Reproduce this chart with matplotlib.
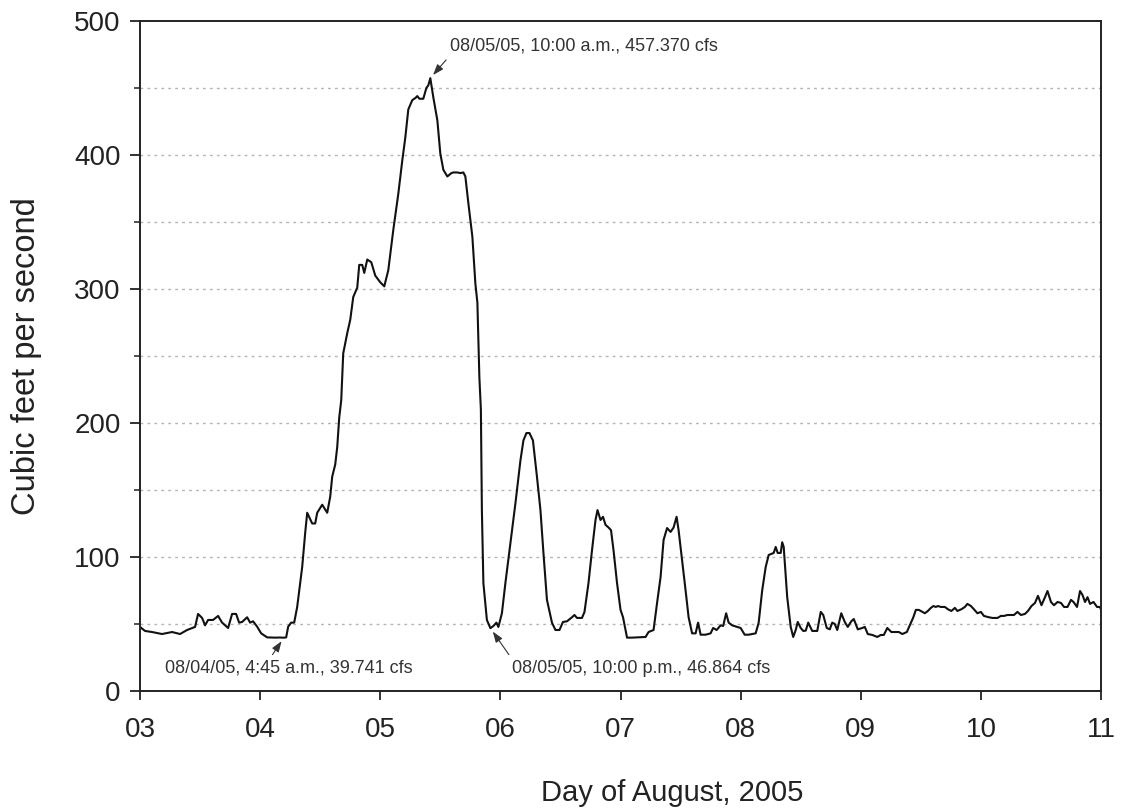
import matplotlib
matplotlib.use("Agg")
import matplotlib.pyplot as plt
from matplotlib.ticker import MultipleLocator, FixedLocator
from matplotlib import font_manager

# Streamflow record, hours since 00:00 on August 3, 2005
hours = [
    0.0, 1.0, 2.4, 4.4, 6.4, 8.0, 9.4, 11.0, 11.6, 12.4, 13.0, 13.6, 14.6, 15.6,
    16.4, 17.6, 18.4, 19.2, 19.8, 20.4, 21.4, 22.0, 22.6, 23.4, 24.2, 25.4, 27.0,
    28.0, 28.75, 29.2, 29.6, 30.2, 30.8, 31.4, 32.4, 33.0, 33.4, 34.4, 35.0, 35.4,
    36.4, 37.4, 38.0, 38.4, 39.0, 39.4, 39.8, 40.2, 40.6, 41.4, 42.0, 42.6, 43.4,
    43.8, 44.4, 44.8, 45.4, 46.2, 47.0, 48.0, 48.8, 49.6, 50.6, 51.4, 51.6, 52.4,
    53.0, 53.6, 54.4, 55.0, 55.4, 55.8, 56.6, 57.2, 57.6, 58.0, 58.6, 59.4, 60.0,
    60.6, 61.4, 62.2, 62.6, 63.4, 64.0, 64.6, 65.0, 65.6, 66.4, 67.0, 67.4, 67.8,
    68.1, 68.3, 68.6, 69.3, 70.0, 70.6, 71.2, 71.6, 72.3, 73.0, 74.0, 75.0, 76.0,
    76.6, 77.2, 77.8, 78.5, 79.3, 80.0, 80.6, 81.3, 82.3, 83.0, 83.8, 84.5, 85.3,
    86.3, 86.8, 87.3, 88.3, 88.8, 89.6, 90.3, 91.0, 91.4, 92.0, 92.5, 93.0, 93.6,
    94.1, 94.6, 95.3, 96.0, 96.5, 97.3, 98.3, 101.0, 101.6, 102.6, 103.3, 104.0,
    104.6, 105.3, 106.0, 106.6, 107.2, 107.6, 108.3, 109.0, 109.6, 110.3, 111.0,
    111.5, 112.0, 113.0, 114.0, 114.5, 115.2, 116.0, 116.5, 117.1, 117.6, 118.3,
    119.3, 120.0, 120.8, 121.6, 123.0, 123.6, 124.3, 125.0, 125.6, 126.6, 127.0,
    127.4, 128.0, 128.3, 128.6, 129.3, 130.0, 130.5, 131.0, 131.4, 132.0, 132.5,
    133.0, 133.5, 134.3, 135.3, 136.0, 136.5, 137.2, 137.8, 138.3, 138.8, 139.3,
    140.1, 140.8, 141.4, 142.1, 142.6, 143.4, 144.3, 144.8, 145.4, 146.3, 147.3,
    148.0, 148.6, 149.3, 150.1, 151.6, 152.3, 153.2, 153.8, 154.5, 155.0, 155.6,
    156.3, 156.8, 157.4, 158.0, 158.5, 159.0, 159.4, 160.0, 160.8, 161.4, 162.1,
    162.8, 163.3, 164.1, 164.8, 165.3, 166.0, 166.6, 167.3, 168.0, 168.6, 169.6,
    170.3, 171.3, 172.0, 172.6, 173.3, 174.6, 175.3, 176.0, 176.8, 177.4, 178.1,
    178.8, 179.4, 180.1, 180.8, 181.3, 182.0, 182.6, 183.3, 184.0, 184.6, 185.3,
    186.0, 186.5, 187.2, 187.8, 188.3, 188.8, 189.3, 189.8, 190.5, 191.2, 191.8,
    192.0,
]
cfs = [
    47.8, 44.8, 44.0, 42.5, 44.0, 42.5, 45.5, 47.8, 57.5, 54.5, 49.0, 53.0, 53.0, 56.0,
    51.0, 47.0, 57.5, 57.5, 51.0, 51.5, 55.0, 51.0, 52.0, 48.0, 43.0, 40.0, 39.8,
    39.9, 39.741, 40.0, 48.0, 51.0, 51.0, 62.7, 92.5, 118.0, 133.0, 125.0, 125.0, 133.0,
    139.0, 133.0, 145.0, 160.0, 169.0, 182.0, 204.0, 217.0, 252.0, 267.0, 277.0, 294.0, 301.0,
    318.0, 318.0, 312.0, 322.0, 320.0, 310.0, 305.0, 302.0, 314.0, 344.0, 366.0, 371.0, 396.0,
    413.0, 434.0, 441.0, 442.5, 444.0, 442.0, 442.0, 450.0, 452.0, 457.37, 443.0, 426.0, 401.0,
    389.0, 384.0, 386.5, 387.0, 387.0, 386.5, 387.0, 384.0, 364.0, 339.0, 304.0, 290.0, 234.0,
    210.0, 135.0, 80.6, 53.0, 46.864, 48.5, 51.0, 47.8, 58.0, 80.6, 110.0, 140.0, 172.0,
    187.0, 192.5, 192.5, 187.0, 160.0, 135.0, 103.0, 68.0, 51.0, 45.5, 45.5, 51.5, 52.0,
    55.0, 56.7, 54.5, 54.5, 59.0, 80.6, 105.0, 127.6, 135.0, 127.6, 130.0, 124.0, 122.0,
    120.0, 105.0, 80.6, 60.5, 55.0, 39.8, 39.8, 40.3, 44.0, 45.5, 65.7, 85.0,
    112.7, 121.6, 118.7, 122.0, 130.0, 120.0, 97.8, 75.0, 55.0, 43.0, 43.0,
    51.0, 42.0, 42.0, 43.0, 47.0, 45.5, 49.0, 48.5, 58.0, 51.0, 49.0,
    47.8, 47.0, 42.0, 42.0, 43.0, 51.0, 75.0, 92.5, 101.5, 103.0, 107.5,
    103.0, 103.0, 111.0, 107.5, 70.0, 47.8, 40.3, 45.5, 51.5, 47.0, 44.8,
    45.0, 51.0, 44.8, 44.8, 59.0, 56.7, 47.0, 46.0, 51.0, 50.0, 45.5,
    58.0, 51.5, 47.8, 52.0, 53.7, 46.0, 47.0, 47.8, 42.5, 41.8, 40.3,
    41.8, 41.8, 47.0, 44.0, 44.0, 42.5, 44.0, 49.0, 55.0, 60.5, 60.5,
    59.0, 58.0, 59.7, 62.0, 63.4, 62.7, 63.4, 62.7, 62.7, 61.0, 59.7,
    62.0, 59.7, 61.0, 62.7, 65.0, 63.4, 61.0, 58.0, 59.0, 56.0, 55.0,
    54.5, 54.5, 56.0, 56.0, 56.7, 56.7, 59.0, 56.7, 57.5, 59.7, 63.4,
    65.7, 71.0, 64.0, 70.0, 74.6, 66.4, 64.0, 66.4, 65.7, 62.7, 62.7,
    68.0, 66.4, 62.7, 74.6, 71.6, 66.4, 70.0, 65.0, 66.4, 62.7, 62.7,
    60.5,
]

day_ticks = [3, 4, 5, 6, 7, 8, 9, 10, 11]
day_labels = ["03", "04", "05", "06", "07", "08", "09", "10", "11"]

# Labelled extremes: (hours since Aug 3, cfs, label)
callouts = [
    (28.75, 39.741, "08/04/05, 4:45 a.m., 39.741 cfs"),
    (58.0, 457.370, "08/05/05, 10:00 a.m., 457.370 cfs"),
    (70.0, 46.864, "08/05/05, 10:00 p.m., 46.864 cfs"),
]

days = [3 + h / 24.0 for h in hours]

plt.rcParams["font.family"] = ["Liberation Sans", "DejaVu Sans"]
installed = {f.name for f in font_manager.fontManager.ttflist}
narrow = "Liberation Sans Narrow" if "Liberation Sans Narrow" in installed else "Liberation Sans"

fig = plt.figure(figsize=(11.21, 8.09), dpi=100)
ax = fig.add_axes([0.1249, 0.1459, 0.8573, 0.8281])

ax.plot(days, cfs, color="#111111", lw=1.5, solid_joinstyle="round")

ax.set_xlim(3, 11)
ax.set_ylim(0, 500)
ax.xaxis.set_major_locator(FixedLocator(day_ticks))
ax.set_xticklabels(day_labels)
ax.yaxis.set_major_locator(MultipleLocator(100))
ax.yaxis.set_minor_locator(MultipleLocator(50))

for y in range(50, 500, 50):
    ax.axhline(y, color="#b5b5b5", lw=1.0, ls=(0, (2, 3)), zorder=0)

for s in ax.spines.values():
    s.set_linewidth(1.4)
    s.set_color("#222222")

ax.tick_params(axis="both", which="major", direction="out", length=7, width=1.3,
               labelsize=20, colors="#222222", pad=7)
ax.tick_params(axis="y", which="minor", direction="out", length=4, width=1.1, colors="#222222")
ax.tick_params(axis="x", which="major", length=6.5, pad=12)

ax.set_xlabel("Day of August, 2005", fontsize=21, color="#222222")
ax.set_ylabel("Cubic feet per second", fontsize=23.5, color="#222222")
ax.xaxis.label.set_va("center")
ax.yaxis.label.set_va("center")
ax.xaxis.set_label_coords(0.554, -0.152)
ax.yaxis.set_label_coords(-0.1176, 0.5)

text_pos = [
    (3 + 5.0 / 24, 17.0, (0.42, 1.0)),
    (3 + 62.0 / 24, 481.0, (0.0, 0.0)),
    (3 + 74.4 / 24, 17.0, (0.0, 1.0)),
]
for (h, v, label), (tx, ty, rp) in zip(callouts, text_pos):
    ax.annotate(label, xy=(3 + h / 24.0, v), xytext=(tx, ty),
                ha="left", va="center", fontsize=13, family=[narrow, "DejaVu Sans"],
                color="#333333",
                arrowprops=dict(arrowstyle="-|>,head_length=0.5,head_width=0.18",
                                color="#333333", lw=0.8, shrinkA=2, shrinkB=3,
                                relpos=rp))

fig.savefig("out.png", dpi=100)
